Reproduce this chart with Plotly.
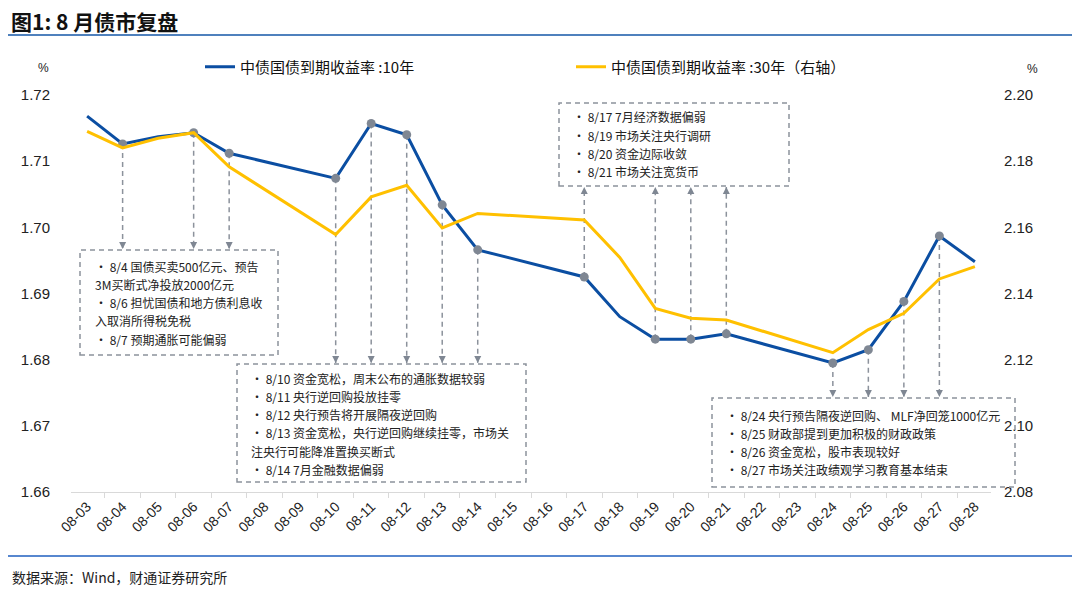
import plotly.graph_objects as go

# 数据: 2020年8月 中债国债到期收益率 (%)
dates = ['08-03', '08-04', '08-05', '08-06', '08-07', '08-08', '08-09', '08-10',
         '08-11', '08-12', '08-13', '08-14', '08-15', '08-16', '08-17', '08-18',
         '08-19', '08-20', '08-21', '08-22', '08-23', '08-24', '08-25', '08-26',
         '08-27', '08-28']
y10 = [1.7168, 1.7126, 1.7137, 1.7143, 1.7112, None, None, 1.7074,
       1.7157, 1.7140, 1.7034, 1.6966, None, None, 1.6925, 1.6865,
       1.6831, 1.6831, 1.6839, None, None, 1.6795, 1.6815, 1.6888,
       1.6987, 1.6948]
y30 = [2.1890, 2.1840, 2.1869, 2.1886, 2.1783, None, None, 2.1578,
       2.1692, 2.1727, 2.1598, 2.1642, None, None, 2.1622, 2.1509,
       2.1355, 2.1325, 2.1320, None, None, 2.1221, 2.1291, 2.1340,
       2.1444, 2.1481]

box1_dates = ['08-04', '08-06', '08-07']
box1_text = ['• 8/4 国债买卖500亿元、预告',
             '3M买断式净投放2000亿元',
             '• 8/6 担忧国债和地方债利息收',
             '入取消所得税免税',
             '• 8/7 预期通胀可能偏弱']
box2_dates = ['08-10', '08-11', '08-12', '08-13', '08-14']
box2_text = ['• 8/10 资金宽松，周末公布的通胀数据较弱',
             '• 8/11 央行逆回购投放挂零',
             '• 8/12 央行预告将开展隔夜逆回购',
             '• 8/13 资金宽松，央行逆回购继续挂零，市场关',
             '注央行可能降准置换买断式',
             '• 8/14 7月金融数据偏弱']
box3_dates = ['08-17', '08-19', '08-20', '08-21']
box3_text = ['• 8/17 7月经济数据偏弱',
             '• 8/19 市场关注央行调研',
             '• 8/20 资金边际收敛',
             '• 8/21 市场关注宽货币']
box4_dates = ['08-24', '08-25', '08-26', '08-27']
box4_text = ['• 8/24 央行预告隔夜逆回购、 MLF净回笼1000亿元',
             '• 8/25 财政部提到更加积极的财政政策',
             '• 8/26 资金宽松，股市表现较好',
             '• 8/27 市场关注政绩观学习教育基本结束']

# plot area in pixels
L, R, T, B = 71, 991, 95, 492
W, H = R - L, B - T
Y0, Y1 = 1.66, 1.72


def px(x):
    return (x - L) / W


def py(y):
    return (B - y) / H


def yval(p):
    # pixel row -> left axis value
    return Y0 + (B - p) / H * (Y1 - Y0)


CJK = 'Noto Sans CJK SC'
GRAY = '#7f8793'
BLUE = '#0b4ea2'
YELLOW = '#ffc000'

# boxes: pixel rect, text left, first line, arrow tip row, direction
boxes = [
    dict(rect=(80, 250, 278, 355), left=93, first=266, tip=249, up=False,
         dates=box1_dates, text=box1_text),
    dict(rect=(237, 364, 526, 482), left=249, first=378, tip=363, up=False,
         dates=box2_dates, text=box2_text),
    dict(rect=(559, 103, 789, 186), left=571, first=117, tip=187, up=True,
         dates=box3_dates, text=box3_text),
    dict(rect=(712, 398, 1015, 487), left=724, first=415, tip=397, up=False,
         dates=box4_dates, text=box4_text),
]
line_gap = 18.3

v10 = dict(zip(dates, y10))

fig = go.Figure()

# dashed connectors
ax, ay, hx, hy, hsym = [], [], [], [], []
for b in boxes:
    for d in b['dates']:
        ax += [d, d, None]
        ay += [v10[d], yval(b['tip']), None]
        hx.append(d)
        hy.append(yval(b['tip']))
        hsym.append('arrow-up' if b['up'] else 'arrow-down')

fig.add_trace(go.Scatter(x=ax, y=ay, mode='lines', showlegend=False, hoverinfo='skip',
                         line=dict(color='#8c929c', width=1.5, dash='5px,4px')))

fig.add_trace(go.Scatter(x=dates, y=y10, mode='lines', name='中债国债到期收益率 :10年',
                         connectgaps=True, line=dict(color=BLUE, width=3)))
fig.add_trace(go.Scatter(x=dates, y=y30, mode='lines', name='中债国债到期收益率 :30年（右轴）',
                         connectgaps=True, yaxis='y2', line=dict(color=YELLOW, width=3)))

fig.add_trace(go.Scatter(x=hx, y=hy, mode='markers', showlegend=False, hoverinfo='skip',
                         marker=dict(symbol=hsym, size=7, color=GRAY)))
fig.add_trace(go.Scatter(x=hx, y=[v10[d] for d in hx], mode='markers', showlegend=False,
                         hoverinfo='skip', marker=dict(symbol='circle', size=9, color=GRAY)))

shapes = []
annotations = []
for b in boxes:
    x0, y0, x1, y1 = b['rect']
    shapes.append(dict(type='rect', xref='paper', yref='paper',
                       x0=px(x0), x1=px(x1), y0=py(y1), y1=py(y0),
                       line=dict(color='#8c929c', width=1.5, dash='5px,4px')))
    for i, t in enumerate(b['text']):
        annotations.append(dict(xref='paper', yref='paper', x=px(b['left']),
                                y=py(b['first'] + i * line_gap), text=t, showarrow=False,
                                xanchor='left', yanchor='middle',
                                font=dict(family=CJK, size=12, color='#222222')))

# title, rules, footer
shapes.append(dict(type='line', xref='paper', yref='paper', x0=px(8), x1=px(1072),
                   y0=py(35), y1=py(35), line=dict(color='#4f81bd', width=2)))
shapes.append(dict(type='line', xref='paper', yref='paper', x0=px(8), x1=px(1072),
                   y0=py(556), y1=py(556), line=dict(color='#1f5fbf', width=1.5)))
annotations.append(dict(xref='paper', yref='paper', x=px(9), y=py(21), text='<b>图1: 8 月债市复盘</b>',
                        showarrow=False, xanchor='left', yanchor='middle',
                        font=dict(family=CJK, size=21, color='#111111')))
annotations.append(dict(xref='paper', yref='paper', x=px(10), y=py(577), text='数据来源：Wind，财通证券研究所',
                        showarrow=False, xanchor='left', yanchor='middle',
                        font=dict(family=CJK, size=14, color='#222222')))
annotations.append(dict(xref='paper', yref='paper', x=px(36), y=py(59), text='%',
                        showarrow=False, font=dict(family='Liberation Sans', size=12, color='#222222')))
annotations.append(dict(xref='paper', yref='paper', x=px(1040), y=py(60), text='%',
                        showarrow=False, font=dict(family='Liberation Sans', size=12, color='#222222')))

fig.update_layout(
    width=1080, height=589, autosize=False,
    margin=dict(l=L, r=1080 - R, t=T, b=589 - B),
    paper_bgcolor='white', plot_bgcolor='white',
    shapes=shapes, annotations=annotations,
    hovermode=False,
    legend=dict(orientation='h', x=px(200), y=py(67), xanchor='left', yanchor='middle',
                font=dict(family=CJK, size=15, color='#111111'),
                entrywidth=326, entrywidthmode='pixels', bgcolor='rgba(0,0,0,0)'),
    xaxis=dict(type='category', categoryorder='array', categoryarray=dates,
               tickangle=-45, tickson='boundaries', ticks='outside', ticklen=5,
               tickcolor='#d9d9d9', showline=True, linecolor='#d9d9d9', linewidth=1,
               showgrid=False, zeroline=False,
               tickfont=dict(family='Liberation Sans', size=14, color='#222222')),
    yaxis=dict(range=[Y0, Y1], dtick=0.01, tickformat='.2f', showgrid=False,
               zeroline=False, showline=False, ticks='', ticklabelstandoff=20,
               tickfont=dict(family='Liberation Sans', size=15, color='#222222')),
    yaxis2=dict(range=[2.08, 2.20], dtick=0.02, tickformat='.2f', overlaying='y',
                side='right', showgrid=False, zeroline=False, showline=False, ticks='',
                ticklabelstandoff=12,
                tickfont=dict(family='Liberation Sans', size=15, color='#222222')),
)

fig.write_html('out.html', config={'displayModeBar': False},
               post_script="document.body.style.margin='0';document.body.style.overflow='hidden';")
